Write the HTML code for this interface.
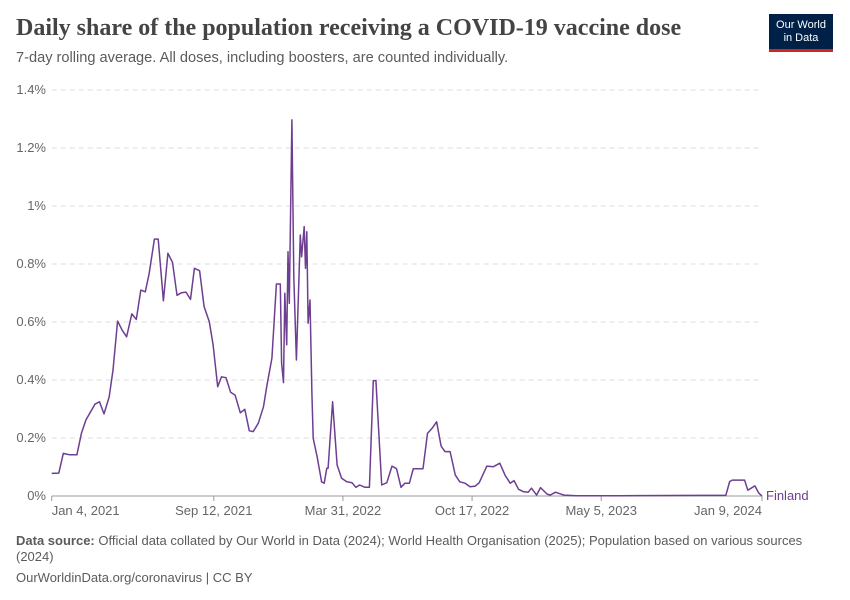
<!DOCTYPE html>
<html><head><meta charset="utf-8"><style>
body{margin:0;background:#fff;font-family:"Liberation Sans",sans-serif;}
#wrap{position:relative;width:850px;height:600px;overflow:hidden;}
.t{position:absolute;white-space:nowrap;}
</style></head><body>
<div id="wrap">
<div class="t" style="left:16px;top:15px;font-family:'Liberation Serif',serif;font-size:24px;font-weight:bold;color:#444;">Daily share of the population receiving a COVID-19 vaccine dose</div>
<div class="t" style="left:16px;top:50px;font-size:14.6px;color:#5b5b5b;">7-day rolling average. All doses, including boosters, are counted individually.</div>
<div style="position:absolute;left:769px;top:14px;width:64px;height:38px;background:#002147;border-bottom:3px solid #ce261e;color:#fff;font-size:11px;line-height:13px;text-align:center;padding-top:5px;box-sizing:border-box;">Our World<br>in Data</div>
<svg id="chart" width="850" height="600" style="position:absolute;left:0;top:0"></svg>
<div class="t" style="left:16px;top:533px;font-size:13px;color:#5b5b5b;line-height:16px;white-space:normal;width:800px;"><b>Data source:</b> Official data collated by Our World in Data (2024); World Health Organisation (2025); Population based on various sources (2024)</div>
<div class="t" style="left:16px;top:570px;font-size:13px;color:#5b5b5b;">OurWorldinData.org/coronavirus | CC BY</div>
</div>
<script>
const days=[0,11,18,28,39,46,53,67,74,81,89,95,102,109,116,124,131,138,145,151,159,165,173,180,187,194,201,208,215,221,229,236,244,250,257,263,270,277,284,292,299,306,312,320,328,333,341,348,354,356,359,361,364,366,368,372,375,379,385,387,391,393,395,397,400,403,405,411,418,422,426,428,435,442,449,457,465,471,477,485,492,498,502,511,519,527,534,541,547,554,560,575,582,589,596,603,609,617,625,632,640,648,656,662,674,684,694,702,710,716,723,730,738,743,751,757,767,772,780,793,813,834,880,1004,1044,1050,1054,1073,1078,1089,1095,1100];
const values=[0.078,0.079,0.147,0.142,0.142,0.216,0.262,0.317,0.325,0.283,0.342,0.434,0.603,0.572,0.549,0.628,0.609,0.710,0.704,0.768,0.886,0.886,0.673,0.837,0.806,0.692,0.701,0.703,0.678,0.785,0.777,0.653,0.601,0.521,0.377,0.411,0.408,0.358,0.348,0.287,0.299,0.225,0.222,0.251,0.308,0.377,0.475,0.731,0.731,0.458,0.391,0.699,0.521,0.842,0.664,1.297,0.756,0.469,0.9,0.825,0.929,0.785,0.911,0.596,0.676,0.354,0.199,0.136,0.049,0.044,0.096,0.096,0.325,0.107,0.061,0.049,0.046,0.03,0.038,0.03,0.03,0.398,0.398,0.038,0.046,0.103,0.094,0.03,0.044,0.044,0.094,0.094,0.216,0.233,0.256,0.172,0.153,0.153,0.072,0.049,0.044,0.032,0.034,0.046,0.103,0.101,0.113,0.072,0.044,0.053,0.023,0.015,0.013,0.027,0.003,0.029,0.007,0.003,0.013,0.003,0.001,0.001,0.001,0.002,0.002,0.05,0.055,0.055,0.02,0.035,0.01,0.0];
const yTicks=[0,0.2,0.4,0.6,0.8,1,1.2,1.4];
const yTickLabels=["0%","0.2%","0.4%","0.6%","0.8%","1%","1.2%","1.4%"];
const xTickDays=[0,251,451,651,851,1100];
const xTickLabels=["Jan 4, 2021","Sep 12, 2021","Mar 31, 2022","Oct 17, 2022","May 5, 2023","Jan 9, 2024"];
const X0=51.7,X1=762,Y0=496,Y1=90,DMAX=1100,VMAX=1.4;
const xs=d=>X0+(X1-X0)*d/DMAX;
const ys=v=>Y0-(Y0-Y1)*v/VMAX;
const NS="http://www.w3.org/2000/svg";
const svg=document.getElementById('chart');
function mk(tag,attrs){const e=document.createElementNS(NS,tag);for(const k in attrs)e.setAttribute(k,attrs[k]);svg.appendChild(e);return e;}
yTicks.forEach((v,i)=>{
  if(v>0){const g=mk('line',{x1:X0,x2:X1,y1:ys(v),y2:ys(v),stroke:'#ddd','stroke-dasharray':'5,4'});
  
  }
  const t=mk('text',{x:46,y:ys(v)+4,'text-anchor':'end','font-size':13,fill:'#666','font-family':'Liberation Sans, sans-serif'});
  t.textContent=yTickLabels[i];
  
  
});
const ax=mk('line',{x1:X0,x2:X1,y1:Y0,y2:Y0,stroke:'#999'});


xTickDays.forEach((d,i)=>{
  const tk=mk('line',{x1:xs(d),x2:xs(d),y1:Y0,y2:Y0+5,stroke:'#999'});
  
  
  const anchor=i===0?'start':(i===xTickDays.length-1?'end':'middle');
  const t=mk('text',{x:xs(d),y:515,'text-anchor':anchor,'font-size':13,fill:'#666','font-family':'Liberation Sans, sans-serif'});
  t.textContent=xTickLabels[i];
  
  
});
const pts=days.map((d,i)=>xs(d).toFixed(1)+','+ys(values[i]).toFixed(1)).join(' ');
const ln=mk('polyline',{points:pts,fill:'none',stroke:'#6d3e91','stroke-width':1.5,'stroke-linejoin':'round'});


const lb=mk('text',{x:766,y:ys(values[values.length-1])+4,'font-size':13,fill:'#6d3e91','font-family':'Liberation Sans, sans-serif'});
lb.textContent='Finland';


</script>
</body></html>
